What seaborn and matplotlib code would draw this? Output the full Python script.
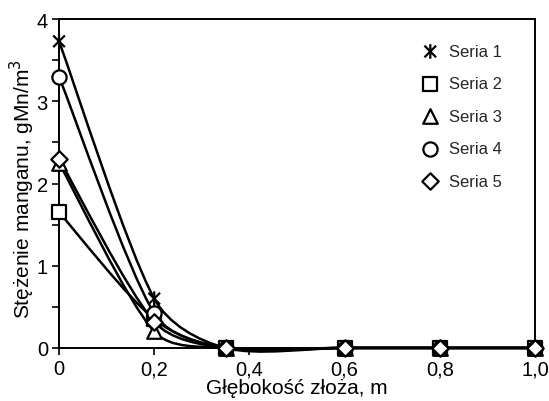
import numpy as np
import pandas as pd
import matplotlib
matplotlib.use('Agg')
import matplotlib.pyplot as plt
from matplotlib.path import Path
from matplotlib.patches import PathPatch
from matplotlib.ticker import MultipleLocator, FuncFormatter
import seaborn as sns

# ─── Data ────────────────────────────────────────────────────────────────────
depth = [0.0, 0.2, 0.35, 0.6, 0.8, 1.0]
seria_1 = [3.73, 0.60, 0.0, 0.0, 0.0, 0.0]
seria_2 = [1.65, 0.35, 0.0, 0.0, 0.0, 0.0]
seria_3 = [2.25, 0.20, 0.0, 0.0, 0.0, 0.0]
seria_4 = [3.30, 0.42, 0.0, 0.0, 0.0, 0.0]
seria_5 = [2.30, 0.32, 0.0, 0.0, 0.0, 0.0]
series_names = ['Seria 1', 'Seria 2', 'Seria 3', 'Seria 4', 'Seria 5']
series_values = [seria_1, seria_2, seria_3, seria_4, seria_5]

# asterisk marker: X with a vertical bar
asterisk = Path([(-1, -1), (1, 1), (-1, 1), (1, -1), (0, -1.25), (0, 1.25)],
                [Path.MOVETO, Path.LINETO] * 3)
markers = [asterisk, 's', '^', 'o', 'D']
sizes = [110, 95, 110, 105, 70]

rows = []
for name, vals in zip(series_names, series_values):
    for x, y in zip(depth, vals):
        rows.append({'x': x, 'y': y, 'seria': name})
df = pd.DataFrame(rows)


def smooth_path(ax, xs, ys):
    # Excel-style smoothed line: cubic Bezier through every point.
    # Control arms are (next - prev)/6 in screen space, capped at a third
    # of the segment so short segments do not overshoot.
    pts = ax.transData.transform(np.column_stack([xs, ys]))
    n = len(pts)

    def cap(v, limit):
        d = np.hypot(*v)
        return v * (limit / d) if d > limit else v

    verts = [pts[0]]
    codes = [Path.MOVETO]
    for i in range(n - 1):
        p0 = pts[max(i - 1, 0)]
        p1 = pts[i]
        p2 = pts[i + 1]
        p3 = pts[min(i + 2, n - 1)]
        lim = np.hypot(*(p2 - p1)) / 3.0
        c1 = p1 + cap((p2 - p0) / 6.0, lim)
        c2 = p2 - cap((p3 - p1) / 6.0, lim)
        verts += [c1, c2, p2]
        codes += [Path.CURVE4] * 3
    verts = ax.transData.inverted().transform(np.array(verts))
    return Path(verts, codes)


sns.set_theme(style='ticks')
plt.rcParams['font.family'] = ['Liberation Sans', 'DejaVu Sans']

fig = plt.figure(figsize=(5.49, 4.02), dpi=100)
ax = fig.add_axes([0.1075, 0.132, 0.867, 0.818])
ax.set_xlim(0, 1.0)
ax.set_ylim(0, 4)

for name, vals in zip(series_names, series_values):
    ax.add_patch(PathPatch(smooth_path(ax, depth, vals), fill=False, clip_on=False,
                           edgecolor='black', lw=1.8, zorder=2))

for name, mk, sz in zip(series_names, markers, sizes):
    sub = df[df['seria'] == name]
    if mk is asterisk:
        sns.scatterplot(data=sub, x='x', y='y', marker=mk, s=sz, facecolor='none',
                        edgecolor='black', linewidth=1.6, ax=ax, label=name,
                        zorder=3, clip_on=False)
    else:
        sns.scatterplot(data=sub, x='x', y='y', marker=mk, s=sz, facecolor='white',
                        edgecolor='black', linewidth=1.6, ax=ax, label=name,
                        zorder=3, clip_on=False)

ax.set_xlim(0, 1.0)
ax.set_ylim(0, 4)
ax.xaxis.set_major_locator(MultipleLocator(0.2))
ax.yaxis.set_major_locator(MultipleLocator(1))
ax.yaxis.set_minor_locator(MultipleLocator(0.5))
ax.xaxis.set_major_formatter(FuncFormatter(lambda v, p: '0' if abs(v) < 1e-9 else f'{v:.1f}'.replace('.', ',')))
ax.yaxis.set_major_formatter(FuncFormatter(lambda v, p: f'{v:.0f}'))
ax.tick_params(axis='both', which='major', direction='out', length=5, width=1.2,
               labelsize=14.5, color='black', labelcolor='black', pad=3)
ax.tick_params(axis='y', which='minor', direction='out', length=5, width=1.2, color='black')

for sp in ax.spines.values():
    sp.set_visible(True)
    sp.set_color('black')
    sp.set_linewidth(1.4)

ax.set_xlabel('Głębokość złoża, m', fontsize=15, color='black', labelpad=0)
ax.set_ylabel('Stężenie manganu, gMn/m$^3$', fontsize=15, color='black', labelpad=-0.5)
ax.yaxis.label.set_y(0.485)

leg = ax.legend(loc='upper left', bbox_to_anchor=(0.745, 0.945), frameon=False,
                fontsize=12, handletextpad=0.5, labelspacing=1.05,
                borderaxespad=0, handlelength=1.2)

fig.savefig('out.png', dpi=100)
